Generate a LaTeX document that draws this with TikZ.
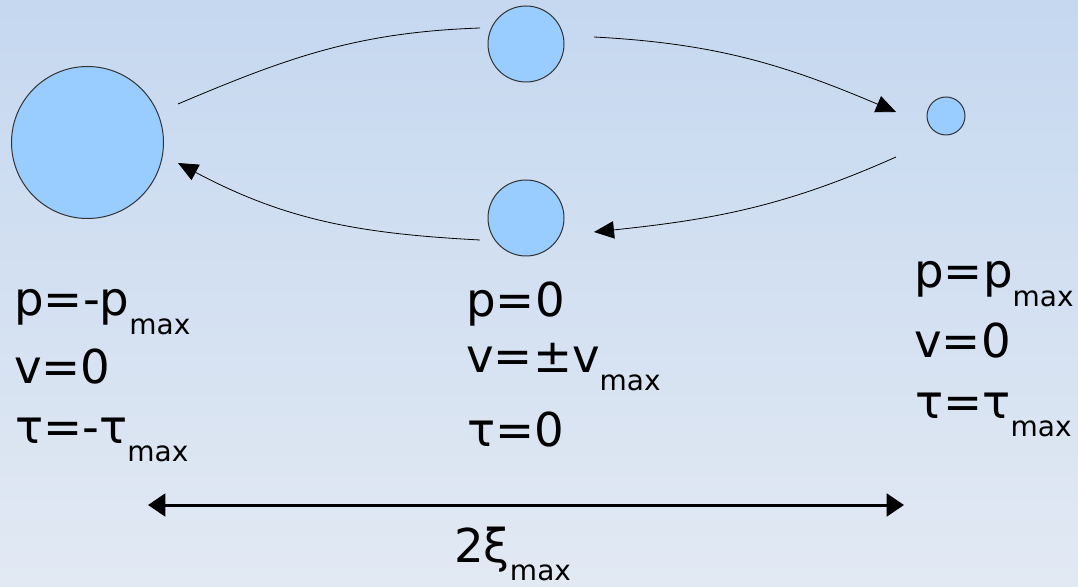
\documentclass[tikz,border=0pt]{standalone}
\usepackage{fontspec}
\setmainfont{DejaVu Sans}
\usetikzlibrary{arrows.meta}
\definecolor{bgtop}{RGB}{197,216,240}
\definecolor{bgbottom}{RGB}{226,233,243}
\definecolor{ballblue}{RGB}{153,204,255}
\newcommand{\maxsub}{\raisebox{-14pt}{\fontsize{21pt}{21pt}\selectfont max}}

\begin{document}
\begin{tikzpicture}[x=0.75pt,y=0.75pt]
    % Styles for the balls, the value lines and the orbit
    \tikzset{ball/.style={circle, draw=black!80, line width=0.75pt, fill=ballblue, inner sep=0pt},
             val/.style={anchor=base west, inner sep=0pt, font=\fontsize{35pt}{42pt}\selectfont}}
    \tikzstyle{orbit} = [line width=0.6pt]
    \tikzstyle{orbitarrow} = [line width=0.6pt, -{Triangle[length=15pt,width=13pt]}]
    \tikzstyle{span} = [line width=2.25pt, {Triangle[length=13pt,width=17pt]}-{Triangle[length=13pt,width=17pt]}]

    % Background
    \shade[top color=bgtop, bottom color=bgbottom] (0,0) rectangle (1078,586);
    \useasboundingbox (0,0) rectangle (1078,586);

    % Balls
    \node (left)   [ball, minimum size=114pt] at (87.5,443.5) {};
    \node (top)    [ball, minimum size=57pt]  at (526,542) {};
    \node (bottom) [ball, minimum size=57pt]  at (526,368) {};
    \node (right)  [ball, minimum size=28.5pt] at (946,470) {};

    % Free ends of the orbit
    \coordinate (s1) at (178,482);
    \coordinate (e1) at (480,558);
    \coordinate (s2) at (594,549);
    \coordinate (e2) at (896,474);
    \coordinate (s3) at (896,429);
    \coordinate (e3) at (594,354);
    \coordinate (s4) at (480,346);
    \coordinate (e4) at (178,423);

    % Orbit
    \draw [orbit] (s1) to[out=23,in=182] (e1);
    \draw [orbitarrow] (s2) to[out=-3,in=157] (e2);
    \draw [orbitarrow] (s3) to[out=204,in=6] (e3);
    \draw [orbitarrow] (s4) to[out=177,in=-28] (e4);

    % Values at the left turning point
    \node (lp) [val] at (14,270) {p=-p\maxsub};
    \node (lv) [val] at (14,202) {v=0};
    \node (lt) [val] at (15,143) {τ=-τ\maxsub};

    % Values in the middle
    \node (mp) [val] at (466,269) {p=0};
    \node (mv) [val] at (466,214) {v=±v\maxsub};
    \node (mt) [val] at (467,140) {τ=0};

    % Values at the right turning point
    \node (rp) [val] at (914,298) {p=p\maxsub};
    \node (rv) [val] at (914,228) {v=0};
    \node (rt) [val] at (915,168) {τ=τ\maxsub};

    % Amplitude
    \coordinate (al) at (148,81);
    \coordinate (ar) at (904,81);
    \draw [span] (al) -- (ar);
    \node (amp) [val] at (454,24) {2ξ\maxsub};
\end{tikzpicture}
\end{document}
